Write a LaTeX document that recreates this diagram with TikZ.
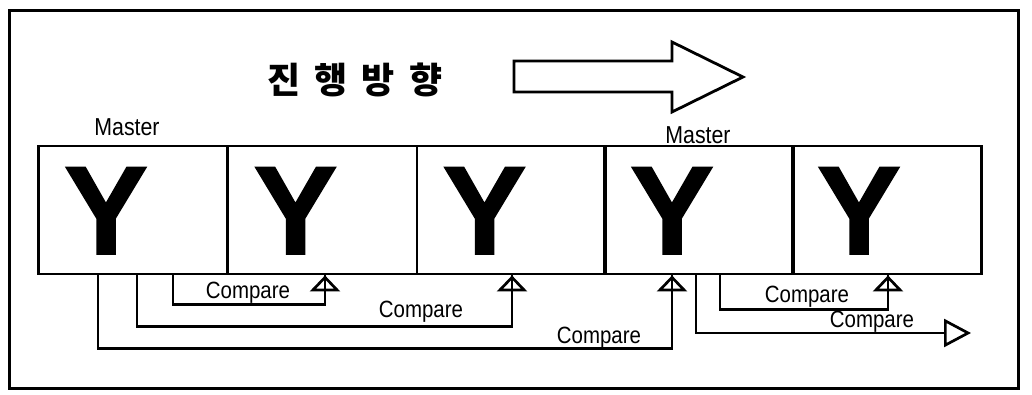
\documentclass[tikz,border=0pt]{standalone}
\usepackage{fontspec}
\setmainfont{Liberation Sans}
\newfontfamily\narrow{Liberation Sans}[FakeStretch=0.87]
\newfontfamily\yfont{Liberation Sans Bold}[FakeBold=1.2]
\newfontfamily\kr{Noto Sans CJK KR}[BoldFont={Noto Sans CJK KR Black}]
\usetikzlibrary{arrows.meta}
\begin{document}
\begin{tikzpicture}[x=1pt,y=-1pt,
  frame/.style={line width=3pt},
  cell/.style={draw, line width=2.8pt, minimum width=189pt, minimum height=128pt, inner sep=0pt},
  bigY/.style={font=\yfont\fontsize{126}{126}\selectfont, inner sep=0pt, anchor=base},
  lbl/.style={font=\narrow\fontsize{24.5}{24.5}\selectfont, inner sep=0pt, anchor=base},
  cmp/.style={font=\narrow\fontsize{23.5}{23.5}\selectfont, inner sep=0pt, anchor=base},
  conn/.style={line width=2.7pt},
  tipup/.style={conn, -{Triangle[open, length=16pt, width=30pt, line width=2.7pt]}, preaction={draw, line width=2.7pt, arrows=-}},
  tipright/.style={conn, -{Triangle[open, length=27pt, width=28pt, line width=2.7pt]}},
]
\useasboundingbox (0,0) rectangle (1032,395);
\draw[frame] (9,11) rectangle (1018,388);

% title and direction arrow
\node[font=\kr\bfseries\fontsize{36}{36}\selectfont, inner sep=0pt] (title) at (355,80)
  {\spaceskip=14pt 진 행 방 향};
\draw[line width=2.8pt, line join=miter] (514,61) -- (672,61) -- (672,42) -- (743,77) -- (672,112) -- (672,92) -- (514,92) -- cycle;

% cells
\node[cell] (b1) at (133,210) {};
\node[cell] (b2) at (322.5,210) {};
\node[cell] (b3) at (511.5,210) {};
\node[cell] (b4) at (699,210) {};
\node[cell] (b5) at (887,210) {};

\node[bigY] (y1) at (106,254) {Y};
\node[bigY] (y2) at (295.5,254) {Y};
\node[bigY] (y3) at (484.5,254) {Y};
\node[bigY] (y4) at (672,254) {Y};
\node[bigY] (y5) at (859,254) {Y};

\node[lbl] (m1) at (127,136) {Master};
\node[lbl] (m2) at (698,144) {Master};

% compare connectors
\draw[tipup] ([xshift=40pt]b1.south) -- ++(0,29) -| ([xshift=2.5pt]b2.south);
\draw[tipup] ([xshift=4pt]b1.south) -- ++(0,51) -| ([xshift=0.5pt]b3.south);
\draw[tipup] ([xshift=-35pt]b1.south) -- ++(0,73) -| ([xshift=-27pt]b4.south);
\draw[tipup] ([xshift=21pt]b4.south) -- ++(0,34) -| ([xshift=1pt]b5.south);
\coordinate (end5) at (971,333);
\draw[tipright] ([xshift=-3pt]b4.south) |- (end5);

\node[cmp] (c1) at (248,298) {Compare};
\node[cmp] (c2) at (421,317) {Compare};
\node[cmp] (c3) at (599,343) {Compare};
\node[cmp] (c4) at (807,302) {Compare};
\node[cmp] (c5) at (872,327) {Compare};
\end{tikzpicture}
\end{document}
